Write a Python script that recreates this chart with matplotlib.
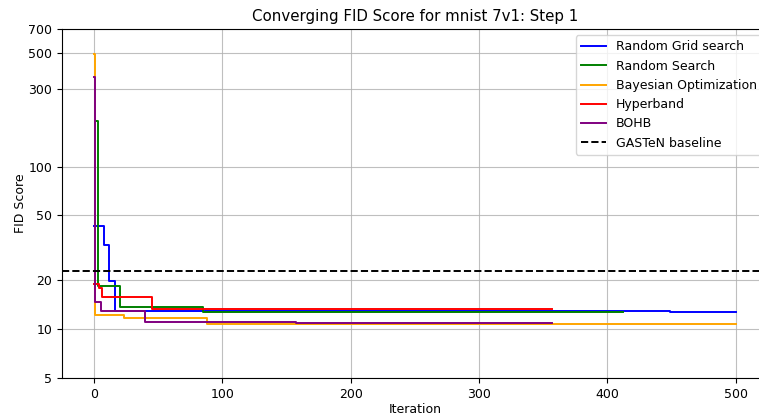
import matplotlib
matplotlib.use("Agg")
import matplotlib.pyplot as plt
from matplotlib.ticker import FixedLocator, FixedFormatter, NullLocator

# Best-so-far FID score: iterations where the best value changes, and the value from there on
grid_iters = [0, 8, 12, 16, 449, 500]
grid_fid = [42.9, 32.8, 19.7, 12.85, 12.65, 12.65]

rand_iters = [1, 3, 20, 85, 412]
rand_fid = [191.0, 18.3, 13.6, 12.8, 12.8]

bayes_iters = [0, 1, 23, 88, 500]
bayes_fid = [493.0, 12.2, 11.65, 10.7, 10.7]

hyper_iters = [0, 4, 6, 45, 357]
hyper_fid = [18.9, 18.0, 15.8, 13.3, 13.3]

bohb_iters = [0, 1, 5, 40, 157, 357]
bohb_fid = [355.0, 14.7, 12.9, 11.1, 10.95, 10.95]

baseline_fid = 22.7

y_ticks = [5, 10, 20, 50, 100, 300, 500, 700]
x_ticks = [0, 100, 200, 300, 400, 500]

plt.rcParams["font.size"] = 9
plt.rcParams["lines.linewidth"] = 1.4

fig = plt.figure(figsize=(7.59, 4.17), dpi=100)
ax = fig.add_axes([0.0817, 0.0935, 0.930, 0.8365])

ax.plot(grid_iters, grid_fid, drawstyle="steps-post", color="blue", label="Random Grid search")
ax.plot(rand_iters, rand_fid, drawstyle="steps-post", color="green", label="Random Search")
ax.plot(bayes_iters, bayes_fid, drawstyle="steps-post", color="orange", label="Bayesian Optimization")
ax.plot(hyper_iters, hyper_fid, drawstyle="steps-post", color="red", label="Hyperband")
ax.plot(bohb_iters, bohb_fid, drawstyle="steps-post", color="purple", label="BOHB")
ax.axhline(baseline_fid, color="black", linestyle="--", label="GASTeN baseline")

ax.set_yscale("log")
ax.set_ylim(5, 700)
ax.set_xlim(-25, 525)
ax.yaxis.set_major_locator(FixedLocator(y_ticks))
ax.yaxis.set_major_formatter(FixedFormatter([str(t) for t in y_ticks]))
ax.yaxis.set_minor_locator(NullLocator())
ax.set_xticks(x_ticks)

ax.grid(True, color="#b0b0b0", linewidth=0.8, alpha=0.8)
ax.set_title("Converging FID Score for mnist 7v1: Step 1")
ax.set_xlabel("Iteration", labelpad=1.5)
ax.set_ylabel("FID Score", labelpad=1)
ax.legend(loc="upper right")

fig.savefig("out.png", dpi=100)
